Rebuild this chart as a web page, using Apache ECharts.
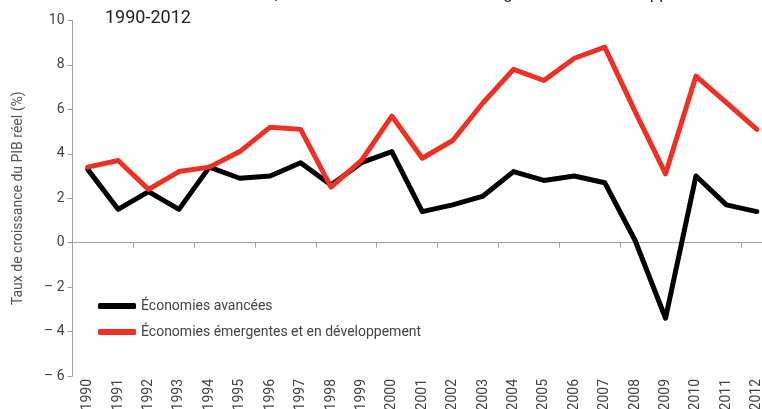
<!DOCTYPE html>
<html>
<head>
<meta charset="utf-8">
<script src="https://cdn.jsdelivr.net/npm/echarts@6/dist/echarts.min.js"></script>
<style>html,body{margin:0;padding:0;background:#fff;overflow:hidden;width:762px;height:409px}#c{width:772px;height:409px}</style>
</head>
<body>
<div id="c"></div>
<script>
const years = ['1990','1991','1992','1993','1994','1995','1996','1997','1998','1999','2000','2001','2002','2003','2004','2005','2006','2007','2008','2009','2010','2011','2012'];
const avancees = [3.3,1.5,2.3,1.5,3.4,2.9,3.0,3.6,2.6,3.6,4.1,1.4,1.7,2.1,3.2,2.8,3.0,2.7,0.1,-3.4,3.0,1.7,1.4];
const emergentes = [3.4,3.7,2.4,3.2,3.4,4.1,5.2,5.1,2.5,3.7,5.7,3.8,4.6,6.3,7.8,7.3,8.3,8.8,5.9,3.1,7.5,6.3,5.1];
const nameAv = 'Économies avancées';
const nameEm = 'Économies émergentes et en développement';
const titleTop = 'Croissance du PIB réel, économies avancées et émergentes et en développement';
const subtitle = '1990-2012';
const yName = 'Taux de croissance du PIB réel (%)';

const FONT = 'Roboto';
const chart = echarts.init(document.getElementById('c'), null, {renderer:'canvas'});
chart.setOption({
  animation: false,
  textStyle: {fontFamily: FONT},
  graphic: [
    {type:'text', left:105, top:-14, style:{text:titleTop, fontFamily:FONT, fontSize:17, fill:'#222'}},
    {type:'text', left:105, top:9, style:{text:subtitle, fontFamily:FONT, fontSize:18, fill:'#222'}}
  ],
  grid: {left:72.5, right:0, top:20.5, bottom:33, outerBoundsMode:'none', containLabel:false},
  legend: {
    orient:'vertical', left:93, top:294, itemGap:12,
    icon:'roundRect', itemWidth:38, itemHeight:6,
    textStyle:{fontFamily:FONT, fontSize:14, color:'#444'},
    data:[nameAv, nameEm]
  },
  xAxis: [
    {type:'category', data:years, boundaryGap:true, position:'bottom',
     axisLine:{onZero:true, lineStyle:{color:'#a0a0a0', width:1}},
     axisTick:{show:true, length:5, lineStyle:{color:'#a0a0a0'}},
     axisLabel:{show:false}},
    {type:'category', data:years, boundaryGap:true, position:'bottom',
     axisLine:{show:false, onZero:false}, axisTick:{show:false},
     axisLabel:{rotate:90, margin:3, fontFamily:FONT, fontSize:14, color:'#444'}}
  ],
  yAxis: {
    type:'value', min:-6, max:10, interval:2,
    name: yName, nameLocation:'middle', nameGap:47,
    nameTextStyle:{fontFamily:FONT, fontSize:14, color:'#555'},
    axisLine:{show:true, lineStyle:{color:'#a0a0a0'}},
    axisTick:{show:true, length:5, lineStyle:{color:'#a0a0a0'}},
    splitLine:{show:false},
    axisLabel:{fontFamily:FONT, fontSize:14, color:'#444', margin:8,
      formatter: v => v < 0 ? '\u2013 ' + Math.abs(v) : String(v)}
  },
  series: [
    {name:nameAv, type:'line', data:avancees, xAxisIndex:0, showSymbol:false,
     lineStyle:{color:'#000', width:5, cap:'round', join:'round'}, itemStyle:{color:'#000'}},
    {name:nameEm, type:'line', data:emergentes, xAxisIndex:0, showSymbol:false,
     lineStyle:{color:'#EE3124', width:5, cap:'round', join:'round'}, itemStyle:{color:'#EE3124'}}
  ]
});
</script>
</body>
</html>
